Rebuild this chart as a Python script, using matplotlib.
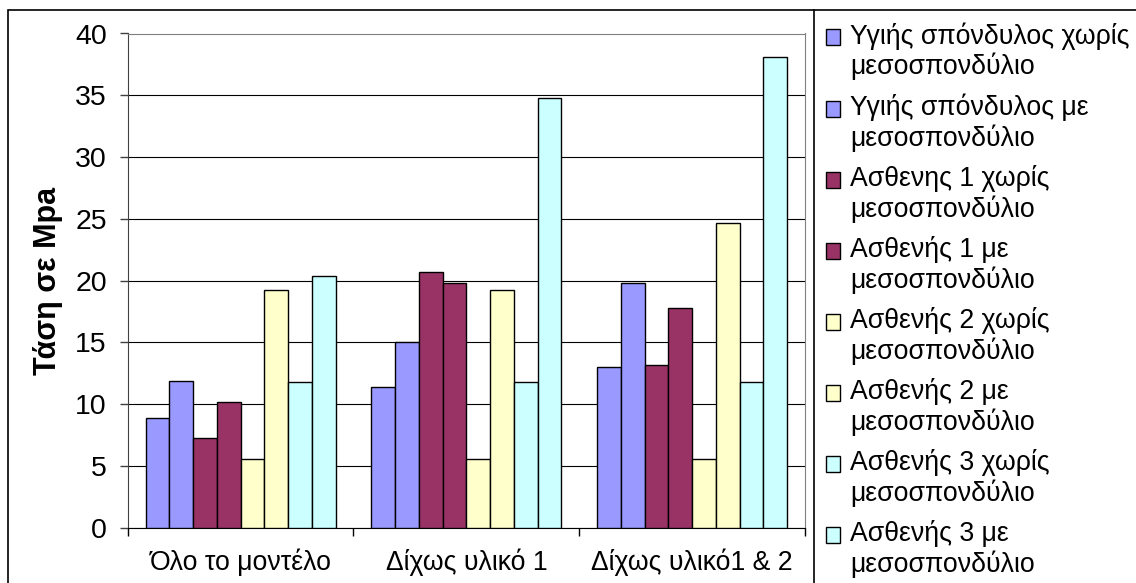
import matplotlib
matplotlib.use("Agg")
import matplotlib.pyplot as plt
import numpy as np
from matplotlib.patches import Rectangle
from matplotlib.lines import Line2D
from matplotlib.legend_handler import HandlerPatch

plt.rcParams['font.family'] = ['Liberation Sans', 'DejaVu Sans']

categories = ["Όλο το μοντέλο", "Δίχως υλικό 1", "Δίχως υλικό1 & 2"]
series_labels = [
    "Υγιής σπόνδυλος χωρίς\nμεσοσπονδύλιο",
    "Υγιής σπόνδυλος με\nμεσοσπονδύλιο",
    "Ασθενης 1 χωρίς\nμεσοσπονδύλιο",
    "Ασθενής 1 με\nμεσοσπονδύλιο",
    "Ασθενής 2 χωρίς\nμεσοσπονδύλιο",
    "Ασθενής 2 με\nμεσοσπονδύλιο",
    "Ασθενής 3 χωρίς\nμεσοσπονδύλιο",
    "Ασθενής 3 με\nμεσοσπονδύλιο",
]
healthy_without = [8.9, 11.4, 13.0]
healthy_with = [11.9, 15.0, 19.8]
patient1_without = [7.3, 20.7, 13.2]
patient1_with = [10.2, 19.8, 17.8]
patient2_without = [5.6, 5.6, 5.6]
patient2_with = [19.2, 19.2, 24.7]
patient3_without = [11.8, 11.8, 11.8]
patient3_with = [20.4, 34.8, 38.1]
series_values = [healthy_without, healthy_with, patient1_without, patient1_with,
                 patient2_without, patient2_with, patient3_without, patient3_with]
series_colors = ['#9999FF', '#9999FF', '#993366', '#993366',
                 '#FFFFCC', '#FFFFCC', '#CCFFFF', '#CCFFFF']
y_ticks = [0, 5, 10, 15, 20, 25, 30, 35, 40]

FS = 19.2
W, H = 1136, 583
fig = plt.figure(figsize=(W / 100, H / 100), dpi=100)
ax = fig.add_axes([127.7 / W, 1 - 527.7 / H, (805 - 127.7) / W, (527.7 - 33.5) / H])

n = len(series_values)
bar_w = 1 / (n + 1.5)
x = np.arange(len(categories))
handles = []
for i, (vals, col) in enumerate(zip(series_values, series_colors)):
    b = ax.bar(x + (i - (n - 1) / 2) * bar_w, vals, width=bar_w, color=col,
               edgecolor='black', linewidth=1.0, zorder=3)
    handles.append(b.patches[0])

ax.set_xlim(-0.5, len(categories) - 0.5)
ax.set_ylim(0, 40)
ax.set_yticks(y_ticks)
ax.tick_params(axis='y', direction='out', length=6, width=1, color='#404040',
               labelsize=20.5, pad=9)
ax.yaxis.grid(True, color='black', linewidth=0.8, zorder=0)
ax.set_axisbelow(True)

ax.set_xticks(np.arange(len(categories) + 1) - 0.5)
ax.set_xticklabels([])
ax.set_xticks(x, minor=True)
ax.set_xticklabels(categories, minor=True, fontsize=FS)
ax.tick_params(axis='x', which='major', direction='out', length=6, width=1, color='black')
ax.tick_params(axis='x', which='minor', length=0, pad=15)

for side in ('top', 'right'):
    ax.spines[side].set_color('#808080')
ax.spines['left'].set_color('#404040')
ax.spines['bottom'].set_color('black')

ax.set_ylabel("Τάση σε Mpa", fontsize=22, fontweight='bold', labelpad=8.5)

# Outer chart frame
fig.add_artist(Rectangle((8 / W, -0.1), 1.2, 1.1 - 10 / H, transform=fig.transFigure,
                         fill=False, edgecolor='black', linewidth=1.2))
# Legend box edge
fig.add_artist(Line2D([814 / W, 814 / W], [-0.1, 1 - 10 / H], transform=fig.transFigure,
                      color='black', linewidth=1.2))

LINE_PT = 21.0  # legend text line pitch in points


def top_line_square(legend, orig_handle, xdescent, ydescent, width, height, fontsize):
    # square key aligned with the first line of a two-line label
    return Rectangle((-xdescent, -ydescent + LINE_PT / 2), width, height)


leg = fig.legend(handles, series_labels, loc='upper left',
                 bbox_to_anchor=(826 / W, 1 - 22 / H), fontsize=FS,
                 frameon=False,
                 handlelength=0.53, handleheight=0.53, handletextpad=0.38,
                 labelspacing=0.50, borderpad=0, borderaxespad=0,
                 handler_map={Rectangle: HandlerPatch(patch_func=top_line_square)})
for t in leg.get_texts():
    t.set_linespacing(1.15)

fig.savefig("out.png", dpi=100)
